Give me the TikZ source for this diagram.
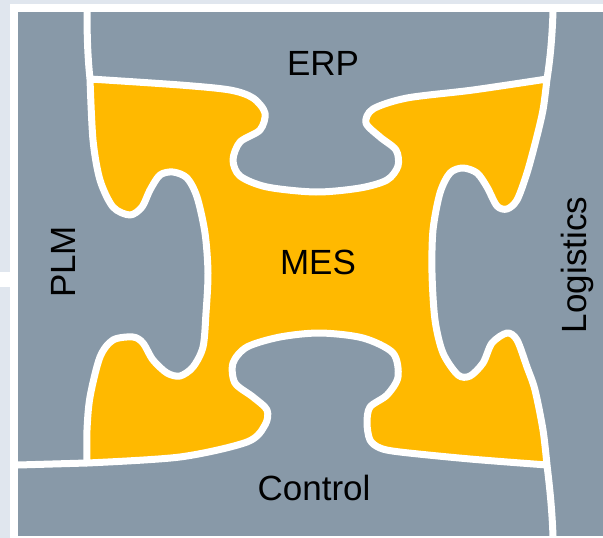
\documentclass[tikz,border=0pt]{standalone}
\usepackage{fontspec}
\setmainfont{Liberation Sans}
\definecolor{bgl}{HTML}{E0E6EE}
\definecolor{slate}{HTML}{8899A8}
\definecolor{mesy}{HTML}{FFB900}
\begin{document}
\begin{tikzpicture}[x=1pt,y=-1pt,
  sep/.style={draw=white,line width=7pt,line join=round,line cap=round},
  lbl/.style={font=\fontsize{35}{40}\selectfont,text=black,inner sep=0pt}]
\useasboundingbox (0,0) rectangle (603,538);
\fill[bgl] (0,0) rectangle (603,538);
\fill[white] (10,4) rectangle (603,538);
\fill[white] (0,272) rectangle (10,287);
\fill[slate] (18,12) rectangle (603,536);
% separators between outer pieces
\draw[sep,line cap=butt] (87,12) .. controls (87,40) and (88,60) .. (90,79);
\draw[sep,line cap=butt] (553,12) .. controls (552,40) and (550,60) .. (547,79);
\draw[sep,line cap=butt] (18,465) -- (87,463);
\draw[sep,line cap=butt] (547,465) .. controls (550,490) and (552,510) .. (553,536);
% MES piece
\draw[sep,fill=mesy]
  plot[smooth,tension=0.5] coordinates {(90,79) (180,85) (230,90) (253,98) (265,113) (260,130) (240,142) (233,160) (240,176) (267,187) (316,192) (360,188) (387,180) (398,166) (396,150) (380,137) (366,123) (373,109) (407,98) (473,90) (547,79)}
  -- plot[smooth,tension=0.5] coordinates {(547,79) (543,110) (536,140) (527,173) (517,200) (507,209) (497,206) (487,187) (477,173) (463,168) (450,173) (440,193) (433,230) (432,273) (435,320) (443,353) (458,375) (470,376) (483,363) (492,343) (507,333) (517,340) (527,367) (535,390) (543,430) (547,465)}
  -- plot[smooth,tension=0.5] coordinates {(547,465) (470,459) (400,452) (380,448) (370,440) (367,423) (370,407) (387,395) (398,377) (393,353) (363,338) (320,333) (280,337) (247,347) (233,363) (235,383) (253,397) (267,410) (265,425) (247,442) (180,457) (87,463)}
  -- plot[smooth,tension=0.5] coordinates {(87,463) (87,430) (90,397) (100,357) (113,340) (133,337) (143,343) (153,360) (167,373) (180,376) (193,367) (203,347) (206,313) (208,273) (205,233) (197,197) (187,178) (173,172) (160,175) (150,190) (142,207) (130,215) (113,207) (100,180) (93,140) (90,79)}
  -- cycle;
% labels
\node[lbl] (erp) at (323,63) {ERP};
\node[lbl] (mes) at (318,262) {MES};
\node[lbl] (ctl) at (314,488) {Control};
\node[lbl,rotate=90] (plm) at (63,262) {PLM};
\node[lbl,rotate=90] (log) at (577,265) {Logistics};
\end{tikzpicture}
\end{document}
